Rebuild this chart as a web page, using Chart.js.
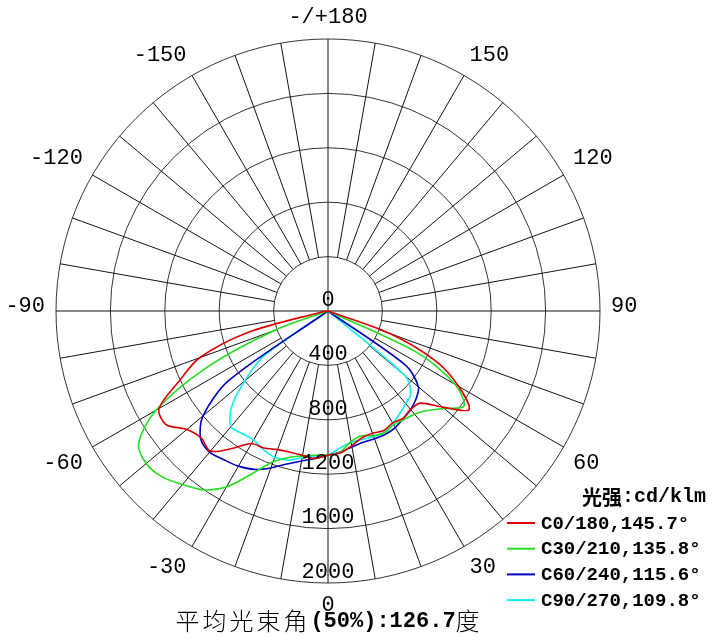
<!DOCTYPE html>
<html>
<head>
<meta charset="utf-8">
<script src="https://cdn.jsdelivr.net/npm/chart.js@4.4.1/dist/chart.umd.min.js"></script>
<style>
  html, body { margin: 0; padding: 0; background: #fff; }
  #wrap { width: 713px; height: 638px; position: relative; }
</style>
</head>
<body>
<div id="wrap"><canvas id="polar"></canvas></div>
<script>
// gamma angle (deg), negative = left half of the C-plane
const gammaDeg = [-90, -85, -80, -75, -70, -65, -60, -55, -50, -45, -40, -35, -30, -25, -20, -15, -10, -5,
  0, 5, 10, 15, 20, 25, 30, 35, 40, 45, 50, 55, 60, 65, 70, 75, 80, 85, 90];

// intensities, cd/klm
const c0 = [0, 0, 60, 610, 1005, 1200, 1435, 1455, 1355, 1320, 1345, 1235, 1125, 1112, 1085, 1075, 1078, 1089,
  1060, 1048, 1005, 965, 956, 970, 950, 963, 945, 958, 1100, 1265, 1110, 880, 480, 0, 0, 0, 0];
const c30 = [0, 0, 0, 0, 420, 985, 1460, 1700, 1745, 1725, 1665, 1605, 1495, 1320, 1180, 1115, 1082, 1065,
  1060, 1040, 975, 950, 975, 988, 965, 975, 990, 1035, 1115, 1220, 1080, 720, 0, 0, 0, 0, 0];
const c60 = [0, 0, 0, 0, 0, 0, 0, 890, 1200, 1325, 1355, 1335, 1317, 1285, 1228, 1165, 1120, 1088,
  1060, 1040, 1015, 999, 1000, 1000, 990, 965, 945, 915, 868, 700, 0, 0, 0, 0, 0, 0, 0];
const c90 = [0, 0, 0, 0, 0, 0, 0, 575, 800, 1005, 1110, 1100, 1095, 1125, 1145, 1135, 1095, 1070,
  1060, 1010, 982, 978, 982, 982, 955, 920, 888, 860, 740, 0, 0, 0, 0, 0, 0, 0, 0];

const seriesNames = ['C0/180,145.7°', 'C30/210,135.8°', 'C60/240,115.6°', 'C90/270,109.8°'];
const seriesColors = ['#dd0000', '#22dd22', '#0000c0', '#11eeee'];

const radialTicks = [0, 400, 800, 1200, 1600, 2000];
const angleTicks = [0, -30, -60, -90, -120, -150, 180, 150, 120, 90, 60, 30];

const unitText = ['光强', ':cd/klm'];
const footText = ['平均光束角', '(50%):126.7', '度'];

// radar directions every 5 deg, clockwise from the bottom (0) through the left (-90)
const directions = [];
for (let i = 0; i < 72; i++) directions.push(i <= 36 ? -5 * i : 360 - 5 * i);

function toRadar(values) {
  return directions.map(d => {
    const k = gammaDeg.indexOf(d);
    return k >= 0 ? values[k] : 0;
  });
}

const decor = {
  id: 'decor',
  beforeDatasetsDraw(chart) {
    const s = chart.scales.r;
    const ctx = chart.ctx;
    const inner = s.getDistanceFromCenterForValue(radialTicks[1]);
    const outer = s.getDistanceFromCenterForValue(radialTicks[radialTicks.length - 1]);
    ctx.save();
    ctx.strokeStyle = '#111';
    ctx.lineWidth = 1;
    directions.forEach((d, i) => {
      if (d % 10 !== 0) return;
      const a = s.getPointPosition(i, d % 90 === 0 ? 0 : inner);
      const b = s.getPointPosition(i, outer);
      ctx.beginPath();
      ctx.moveTo(a.x, a.y);
      ctx.lineTo(b.x, b.y);
      ctx.stroke();
    });
    ctx.restore();
  },
  afterDraw(chart) {
    const s = chart.scales.r;
    const ctx = chart.ctx;
    const outer = s.getDistanceFromCenterForValue(radialTicks[radialTicks.length - 1]);
    ctx.save();
    ctx.fillStyle = '#000';

    // radial tick labels, down the 0 axis
    ctx.font = '22px "Liberation Mono"';
    ctx.textAlign = 'center';
    ctx.textBaseline = 'bottom';
    radialTicks.forEach(v => {
      const r = s.getDistanceFromCenterForValue(v);
      ctx.fillText(String(v), s.xCenter, s.yCenter + r);
    });

    // angle labels: anchored just outside the rim, pushed away from it
    ctx.textBaseline = 'middle';
    angleTicks.forEach(t => {
      const i = directions.indexOf(t === 180 ? -180 : t);
      const p = s.getPointPosition(i, 1);
      const ux = p.x - s.xCenter, uy = p.y - s.yCenter;
      const R = outer + 11;
      let x = s.xCenter, y;
      if (Math.abs(ux) < 0.01) ctx.textAlign = 'center';
      else { ctx.textAlign = ux > 0 ? 'left' : 'right'; x = s.xCenter + R * ux; }
      if (Math.abs(uy) < 0.01) y = s.yCenter - 5;
      else y = s.yCenter + R * uy + (uy > 0 ? 11 : -11);
      ctx.fillText(t === 180 ? '-/+180' : String(t), x, y);
    });

    // text runs with mixed fonts; 'adv' gives a fixed per-character advance
    const drawRun = (parts, x, y, align) => {
      const widthOf = ([txt, f, adv]) => { ctx.font = f; return adv ? adv * [...txt].length : ctx.measureText(txt).width; };
      const w = parts.reduce((a, p) => a + widthOf(p), 0);
      let cx = align === 'right' ? x - w : align === 'center' ? x - w / 2 : x;
      ctx.textAlign = 'left';
      parts.forEach(p => {
        const [txt, f, adv] = p;
        ctx.font = f;
        if (adv) [...txt].forEach((ch, j) => ctx.fillText(ch, cx + j * adv, y));
        else ctx.fillText(txt, cx, y);
        cx += widthOf(p);
      });
    };

    // legend
    drawRun([[unitText[0], 'bold 20px "Noto Sans CJK SC"'], [unitText[1], 'bold 20px "Liberation Mono"']], 706, 497, 'right');
    chart.data.datasets.forEach((ds, k) => {
      const y = 523 + k * 25.7;
      ctx.strokeStyle = ds.borderColor;
      ctx.lineWidth = 2;
      ctx.beginPath();
      ctx.moveTo(507, y);
      ctx.lineTo(535, y);
      ctx.stroke();
      ctx.fillStyle = '#000';
      ctx.textAlign = 'left';
      ctx.font = 'bold 19px "Liberation Mono"';
      ctx.fillText(ds.label, 541, y + 1);
    });

    // footer
    drawRun([
      [footText[0], '300 24px "Noto Sans CJK SC"', 27],
      [footText[1], 'bold 22px "Liberation Mono"'],
      [footText[2], '300 24px "Noto Sans CJK SC"', 27]
    ], 329, 621, 'center');
    ctx.restore();
  }
};

new Chart(document.getElementById('polar'), {
  type: 'radar',
  data: {
    labels: directions,
    datasets: [c0, c30, c60, c90].map((v, k) => ({
      label: seriesNames[k],
      data: toRadar(v),
      borderColor: seriesColors[k],
      borderWidth: 1.6,
      pointRadius: 0,
      fill: false,
      tension: 0.3
    }))
  },
  options: {
    responsive: true,
    maintainAspectRatio: false,
    animation: false,
    layout: { padding: { left: 56, top: 39, right: 113, bottom: 55 } },
    plugins: {
      legend: { display: false },
      tooltip: { enabled: false }
    },
    scales: {
      r: {
        min: 0,
        max: 2000,
        startAngle: 180,
        ticks: { stepSize: 400, display: false },
        pointLabels: { display: false },
        angleLines: { display: false },
        grid: { circular: true, color: '#333', lineWidth: 1 }
      }
    }
  },
  plugins: [decor]
});
</script>
</body>
</html>
